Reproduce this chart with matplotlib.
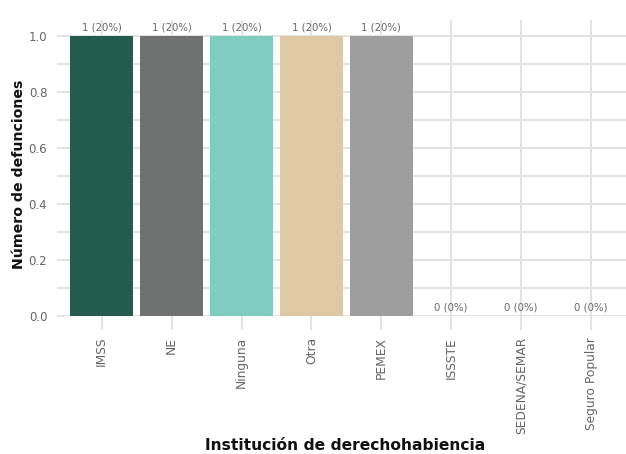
import matplotlib
matplotlib.use("Agg")
import matplotlib.pyplot as plt
from matplotlib.ticker import MultipleLocator

categories = ["IMSS", "NE", "Ninguna", "Otra", "PEMEX", "ISSSTE", "SEDENA/SEMAR", "Seguro Popular"]
values = [1, 1, 1, 1, 1, 0, 0, 0]
labels = ["1 (20%)", "1 (20%)", "1 (20%)", "1 (20%)", "1 (20%)", "0 (0%)", "0 (0%)", "0 (0%)"]
colors = ["#235B4E", "#6F7271", "#7FCDC1", "#DDC9A3", "#9E9E9E", "#9E9E9E", "#9E9E9E", "#9E9E9E"]

plt.rcParams['font.family'] = ['DejaVu Sans']

fig = plt.figure(figsize=(6.26, 4.54), dpi=100)
ax = fig.add_axes([64/626, (454-316)/454, (626-64)/626, (316-20)/454])

x = list(range(len(categories)))
ax.bar(x, values, width=0.9, color=colors, zorder=3)
for xi, v, lab in zip(x, values, labels):
    ax.text(xi, v + 0.012, lab, ha="center", va="bottom", fontsize=7.3, color="#666666", zorder=4)

ax.set_xlim(-0.54, 7.5)
ax.yaxis.set_minor_locator(MultipleLocator(0.1))
ax.set_xticks(x)
ax.set_xticklabels(categories, rotation=90, fontsize=8.8, color="#666666")
yt = [0.0, 0.2, 0.4, 0.6, 0.8, 1.0]
ax.set_yticks(yt)
ax.set_yticklabels([f"{t:.1f}" for t in yt], fontsize=8.5, color="#666666")
ax.set_ylim(0, 1.057)

ax.grid(True, which="major", axis="both", color="#e3e3e3", linewidth=1.4, zorder=0)
ax.grid(True, which="minor", axis="y", color="#e3e3e3", linewidth=1.4, zorder=0)
for s in ax.spines.values():
    s.set_visible(False)
ax.tick_params(axis="x", length=10, width=1.4, color="#e3e3e3", pad=5)
ax.tick_params(axis="y", which="both", length=5, width=1.4, color="#e3e3e3", pad=7)

ax.set_ylabel("Número de defunciones", fontsize=10.2, fontweight="bold", color="#111111")
ax.yaxis.set_label_coords(-(64 - 26) / 562, 0.48)
ax.set_xlabel("Institución de derechohabiencia", fontsize=11.2, fontweight="bold", color="#111111")
ax.xaxis.set_label_coords(0.5, -(438 - 316) / 296)

fig.savefig("out.png", dpi=100)
